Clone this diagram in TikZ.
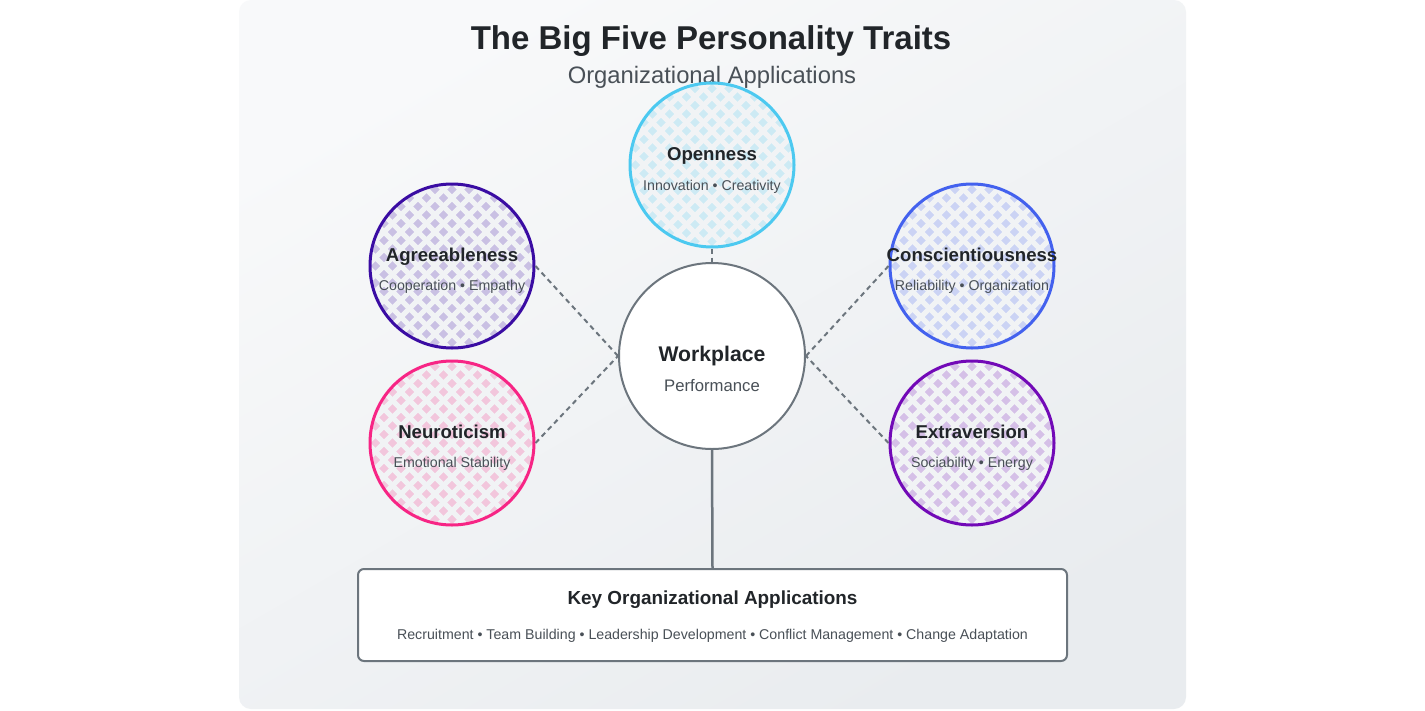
\documentclass[tikz,border=0pt]{standalone}
\usepackage{fontspec}
\setmainfont{Liberation Sans}
\usetikzlibrary{calc}
\definecolor{cOpen}{HTML}{4CC9F0}
\definecolor{cAgree}{HTML}{3A0CA3}
\definecolor{cConsc}{HTML}{4361EE}
\definecolor{cNeuro}{HTML}{F72585}
\definecolor{cExtra}{HTML}{7209B7}
\definecolor{ink}{HTML}{212529}
\definecolor{subink}{HTML}{495057}
\definecolor{edge}{HTML}{6C757D}
\definecolor{panelA}{HTML}{F8F9FA}
\definecolor{panelB}{HTML}{E9ECEF}
\definecolor{gapc}{HTML}{F1F3F5}
\tikzset{
  traitcircle/.style={circle, draw=#1, line width=3pt, minimum size=164pt, inner sep=0pt,
    path picture={
      \fill[#1!22!gapc] (path picture bounding box.south west) rectangle (path picture bounding box.north east);
      \begin{scope}[shift={(path picture bounding box.center)}]
        \foreach \k in {-12,...,12}{
          \draw[gapc, line width=5pt] (\k*17-110,-110) -- ++(220,220);
          \draw[gapc, line width=5pt] (\k*17-110,110) -- ++(220,-220);
        }
      \end{scope}
    }},
  traitname/.style={text=ink, font=\bfseries\fontsize{18.6}{20}\selectfont, inner sep=0pt, anchor=base},
  traitsub/.style={text=subink, font=\fontsize{14.2}{16}\selectfont, inner sep=0pt, anchor=base},
  link/.style={draw=edge, line width=2pt, dash pattern=on 5pt off 4pt},
}
\begin{document}
\begin{tikzpicture}[x=1pt, y=-1pt]
\useasboundingbox (0,0) rectangle (1425,710);
\fill[white] (0,0) rectangle (1425,710);
\shade[top color=panelA, bottom color=panelB, shading angle=30, rounded corners=12pt] (239,0) rectangle (1186,709);

\node[text=ink, font=\bfseries\fontsize{33}{36}\selectfont, inner sep=0pt, anchor=base] (title) at (711,49) {The Big Five Personality Traits};
\node[text=subink, font=\fontsize{23.8}{26}\selectfont, inner sep=0pt, anchor=base] (subtitle) at (712,83) {Organizational Applications};

% central
\node[circle, draw=edge, line width=2pt, fill=white, minimum size=186pt, inner sep=0pt] (work) at (712,356) {};
\node[text=ink, font=\bfseries\fontsize{21.2}{23}\selectfont, inner sep=0pt, anchor=base] (workt) at ($(work)+(0,5)$) {Workplace};
\node[text=subink, font=\fontsize{16.7}{18}\selectfont, inner sep=0pt, anchor=base] (works) at ($(work)+(0,35)$) {Performance};

% traits
\node[traitcircle=cOpen] (open) at (712,165) {};
\node[traitcircle=cAgree] (agree) at (452,266) {};
\node[traitcircle=cConsc] (consc) at (972,266) {};
\node[traitcircle=cNeuro] (neuro) at (452,443) {};
\node[traitcircle=cExtra] (extra) at (972,443) {};

% links
\draw[link] (open.south) -- (work.north);
\draw[link] (agree.east) -- (work.west);
\draw[link] (neuro.east) -- (work.west);
\draw[link] (consc.west) -- (work.east);
\draw[link] (extra.west) -- (work.east);

\node[traitname] (opent) at ($(open)+(0,-5)$) {Openness};
\node[traitsub] (opens) at ($(open)+(0,25)$) {Innovation • Creativity};
\node[traitname] (agreet) at ($(agree)+(0,-5)$) {Agreeableness};
\node[traitsub] (agrees) at ($(agree)+(0,24)$) {Cooperation • Empathy};
\node[traitname] (consct) at ($(consc)+(0,-5)$) {Conscientiousness};
\node[traitsub] (conscs) at ($(consc)+(0,24)$) {Reliability • Organization};
\node[traitname] (neurot) at ($(neuro)+(0,-5)$) {Neuroticism};
\node[traitsub] (neuros) at ($(neuro)+(0,24)$) {Emotional Stability};
\node[traitname] (extrat) at ($(extra)+(0,-5)$) {Extraversion};
\node[traitsub] (extras) at ($(extra)+(0,24)$) {Sociability • Energy};

% applications box
\node[draw=edge, line width=2pt, fill=white, rounded corners=6pt, minimum width=709pt, minimum height=92pt, inner sep=0pt] (apps) at (712.5,615) {};
\draw[edge, line width=2.5pt] (work.south) -- (apps.north);
\node[traitname, font=\bfseries\fontsize{18.9}{20}\selectfont] (appst) at ($(apps)+(0,-11)$) {Key Organizational Applications};
\node[traitsub] (appss) at ($(apps)+(0,24)$) {Recruitment • Team Building • Leadership Development • Conflict Management • Change Adaptation};
\end{tikzpicture}
\end{document}
